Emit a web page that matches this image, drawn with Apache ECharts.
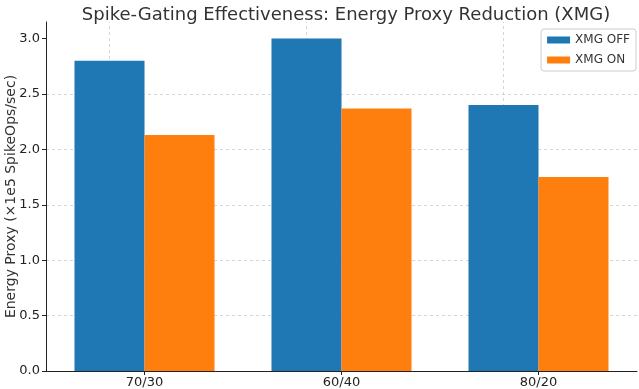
<!DOCTYPE html>
<html>
<head>
<meta charset="utf-8">
<script src="https://cdn.jsdelivr.net/npm/echarts@6/dist/echarts.min.js"></script>
<style>
  html, body { margin: 0; padding: 0; background: #fff; }
  #chart { width: 639px; height: 389px; }
</style>
</head>
<body>
<div id="chart"></div>
<script>
const categories = ["70/30", "60/40", "80/20"];
const xmgOff = [2.8, 3.0, 2.4];
const xmgOn = [2.13, 2.37, 1.75];
const yTicks = [0, 0.5, 1.0, 1.5, 2.0, 2.5, 3.0];

const chart = echarts.init(document.getElementById("chart"));

const font = "DejaVu Sans";
const gridStyle = { color: "#ccc", type: [3, 3], width: 0.8 };

const option = {
  animation: false,
  textStyle: { fontFamily: font },
  // 标题
  title: {
    text: "Spike-Gating Effectiveness: Energy Proxy Reduction (XMG)",
    left: 341,
    textAlign: "center",
    top: 1,
    textStyle: {
      color: "#333",
      fontWeight: "normal",
      fontSize: 18,
      fontFamily: font,
    },
  },
  legend: {
    right: 3,
    top: 29,
    orient: "vertical",
    itemWidth: 23,
    itemHeight: 7,
    itemGap: 8,
    padding: [5, 6, 5, 6],
    borderColor: "#ccc",
    borderWidth: 1,
    borderRadius: 3,
    textStyle: { fontSize: 12, color: "#333", fontFamily: font },
    icon: "rect",
    data: ["XMG OFF", "XMG ON"],
  },
  grid: {
    left: 46,
    right: 2,
    top: 22,
    bottom: 18,
    containLabel: false,
    outerBoundsMode: "none",
  },
  xAxis: {
    type: "category",
    data: categories,
    axisLine: { lineStyle: { color: "#222", width: 1 } },
    axisTick: { show: true, alignWithLabel: true, length: 4, lineStyle: { color: "#222" } },
    axisLabel: { color: "#222", fontSize: 13, margin: 5 },
    splitLine: { show: false },
  },
  yAxis: {
    type: "value",
    min: 0,
    max: 3.15,
    interval: 0.5,
    name: "Energy Proxy (×1e5 SpikeOps/sec)",
    nameLocation: "middle",
    nameGap: 28,
    nameMoveOverlap: false,
    nameTextStyle: { fontSize: 14, color: "#333", fontFamily: font },
    axisLine: { show: true, lineStyle: { color: "#222", width: 1 } },
    axisTick: { show: true, length: 4, lineStyle: { color: "#222" }, customValues: yTicks },
    axisLabel: {
      color: "#222",
      fontSize: 13,
      margin: 6,
      customValues: yTicks,
      formatter: (v) => v.toFixed(1),
    },
    splitLine: {
      show: true,
      showMaxLine: false,
      lineStyle: gridStyle,
    },
  },
  series: [
    {
      name: "XMG OFF",
      type: "bar",
      data: xmgOff,
      barWidth: 70,
      barGap: "0%",
      itemStyle: { color: "#1f77b4" },
      z: 3,
      // 竖向网格线，放在类目中心
      markLine: {
        silent: true,
        symbol: "none",
        label: { show: false },
        lineStyle: gridStyle,
        z: 1,
        data: categories.map((c) => ({ xAxis: c })),
      },
    },
    {
      name: "XMG ON",
      type: "bar",
      data: xmgOn,
      barWidth: 70,
      barGap: "0%",
      itemStyle: { color: "#ff7f0e" },
      z: 3,
    },
  ],
};

chart.setOption(option);
</script>
</body>
</html>
